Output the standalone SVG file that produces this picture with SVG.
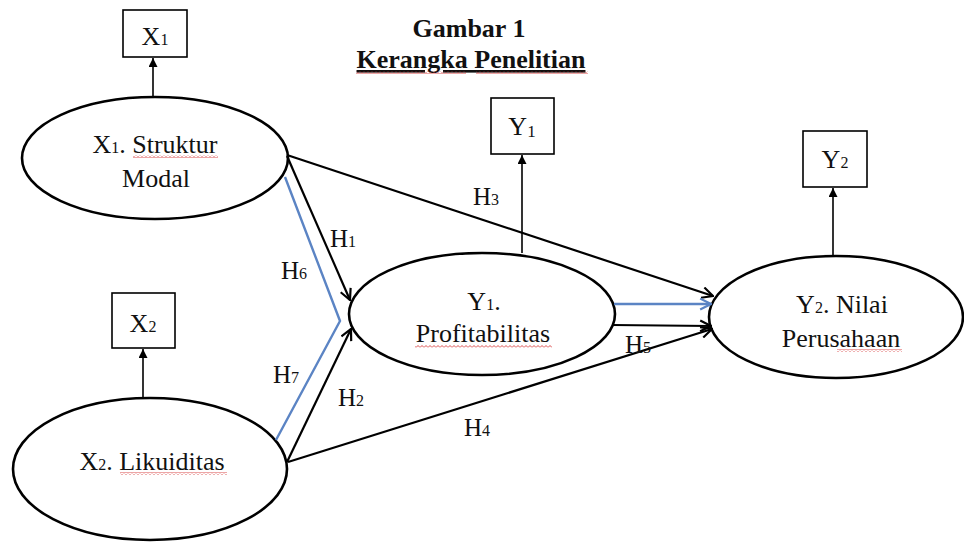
<svg xmlns="http://www.w3.org/2000/svg" width="964" height="542" viewBox="0 0 964 542">
<style>
.t{font-family:'Liberation Serif',serif;font-size:26px;fill:#111;text-anchor:middle}
.h{font-family:'Liberation Serif',serif;font-size:25px;fill:#111;text-anchor:middle}
.ttl{font-family:'Liberation Serif',serif;font-size:26px;font-weight:bold;fill:#111;text-anchor:middle}
.el{fill:#fff;stroke:#000;stroke-width:2.6}
.bx{fill:#fff;stroke:#000;stroke-width:1.6}
.ln{fill:none;stroke:#000;stroke-width:2.2}
.bl{fill:none;stroke:#5b84c4;stroke-width:2.4}
.ind{fill:none;stroke:#000;stroke-width:1.6}
.wv{fill:url(#wavy)}
</style>
<defs>
<marker id="open" viewBox="0 0 12 12" refX="11" refY="6" markerWidth="13" markerHeight="13" markerUnits="userSpaceOnUse" orient="auto"><path d="M1,1 L11,6 L1,11" fill="none" stroke="#000" stroke-width="2"/></marker>
<marker id="openb" viewBox="0 0 12 12" refX="11" refY="6" markerWidth="13" markerHeight="13" markerUnits="userSpaceOnUse" orient="auto"><path d="M1,1 L11,6 L1,11" fill="none" stroke="#5b84c4" stroke-width="2"/></marker>
<marker id="fill" viewBox="0 0 10 10" refX="10" refY="5" markerWidth="10" markerHeight="9" markerUnits="userSpaceOnUse" orient="auto"><path d="M0,0 L10,5 L0,10 z" fill="#000"/></marker>
<pattern id="wavy" width="4" height="3" patternUnits="userSpaceOnUse"><path d="M0,2.5 L2,0.5 L4,2.5" fill="none" stroke="#d02020" stroke-width="0.8"/></pattern>
</defs>
<rect width="964" height="542" fill="#fff"/>

<g id="title">
<text class="ttl" x="469" y="37">Gambar 1</text>
<text class="ttl" x="471" y="68" text-decoration="underline">Kerangka Penelitian</text>
<rect class="wv" x="356" y="71" width="110" height="3"/>
<rect class="wv" x="476" y="71" width="112" height="3"/>
</g>

<g id="X1">
<ellipse class="el" cx="155" cy="158" rx="133" ry="61"/>
<text class="t" x="155" y="153">X<tspan font-size="16">1</tspan>. Struktur</text>
<text class="t" x="156" y="187">Modal</text>
<rect class="wv" x="133" y="155" width="85" height="3"/>
</g>
<g id="X1box">
<rect class="bx" x="123" y="10" width="64" height="47"/>
<text class="t" x="155" y="45">X<tspan font-size="16">1</tspan></text>
</g>

<g id="X2">
<ellipse class="el" cx="150" cy="469" rx="137" ry="71"/>
<text class="t" x="152" y="470">X<tspan font-size="16">2</tspan>. Likuiditas</text>
<rect class="wv" x="120" y="472" width="107" height="3"/>
</g>
<g id="X2box">
<rect class="bx" x="112" y="293" width="63" height="55"/>
<text class="t" x="143" y="332">X<tspan font-size="16">2</tspan></text>
</g>

<g id="Y1">
<ellipse class="el" cx="482" cy="314" rx="133" ry="61"/>
<text class="t" x="484" y="310">Y<tspan font-size="16">1</tspan>.</text>
<text class="t" x="483" y="342">Profitabilitas</text>
<rect class="wv" x="415" y="345" width="137" height="3"/>
</g>
<g id="Y1box">
<rect class="bx" x="491" y="98" width="63" height="56"/>
<text class="t" x="522" y="135">Y<tspan font-size="17" dy="2">1</tspan></text>
</g>

<g id="Y2">
<ellipse class="el" cx="836" cy="317" rx="127" ry="61"/>
<text class="t" x="842" y="313">Y<tspan font-size="16">2</tspan>. Nilai</text>
<text class="t" x="841" y="347">Perusahaan</text>
<rect class="wv" x="837" y="349" width="65" height="3"/>
</g>
<g id="Y2box">
<rect class="bx" x="803" y="131" width="64" height="56"/>
<text class="t" x="835" y="168">Y<tspan font-size="16">2</tspan></text>
</g>

<g id="connectors">
<path class="ind" d="M153,97 L153,58" marker-end="url(#fill)"/>
<path class="ind" d="M143,398 L143,349" marker-end="url(#fill)"/>
<path class="ind" d="M522,253 L522,155" marker-end="url(#fill)"/>
<path class="ind" d="M833,256 L833,188" marker-end="url(#fill)"/>
<path class="bl" d="M285,177 L340,321 L276,440"/>
<path class="ln" d="M287,155 L713,296" marker-end="url(#open)"/>
<path class="ln" d="M287,156 L350,300" marker-end="url(#open)"/>
<path class="ln" d="M287,462 L351,329" marker-end="url(#open)"/>
<path class="ln" d="M288,462 L712,329" marker-end="url(#open)"/>
<path class="bl" d="M614,304 L711,304" marker-end="url(#openb)"/>
<path class="ln" d="M612,325 L711,326" marker-end="url(#open)"/>
</g>

<g id="labels">
<text class="h" x="486" y="205">H<tspan font-size="16">3</tspan></text>
<text class="h" x="343" y="247">H<tspan font-size="16">1</tspan></text>
<text class="h" x="294" y="279">H<tspan font-size="16">6</tspan></text>
<text class="h" x="286" y="383">H<tspan font-size="16">7</tspan></text>
<text class="h" x="351" y="406">H<tspan font-size="16">2</tspan></text>
<text class="h" x="638" y="353">H<tspan font-size="16">5</tspan></text>
<text class="h" x="477" y="436">H<tspan font-size="16">4</tspan></text>
</g>
</svg>
